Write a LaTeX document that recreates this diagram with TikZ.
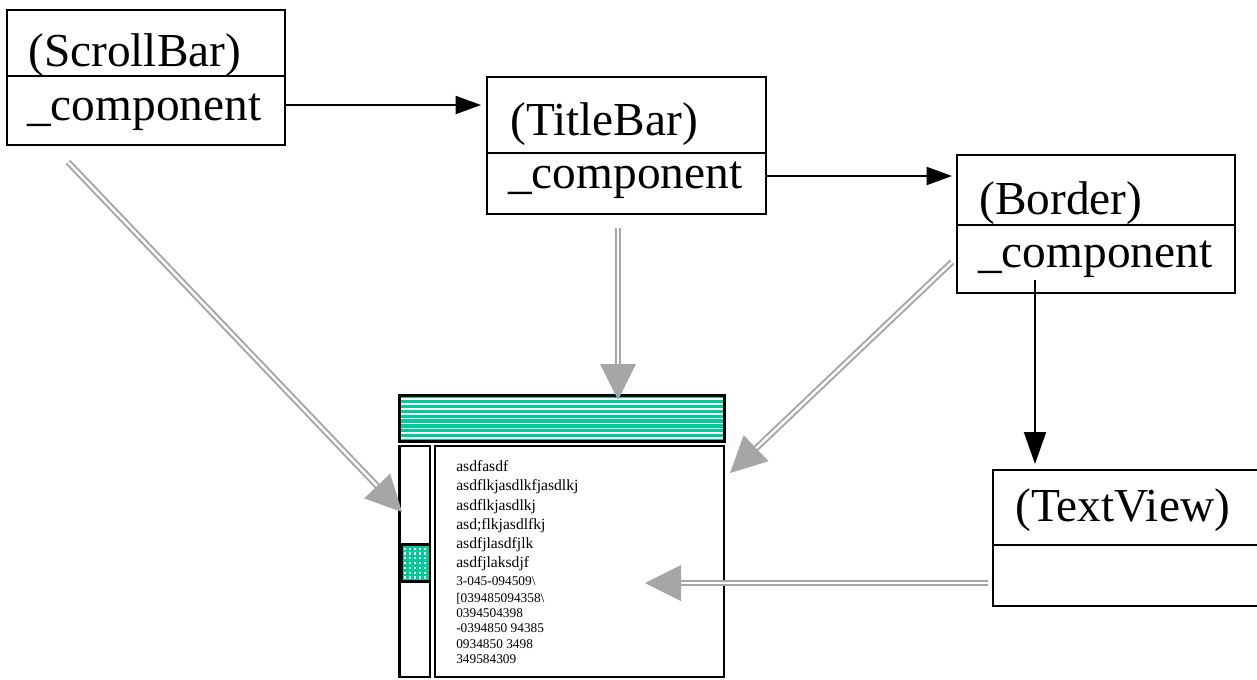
\documentclass[tikz,border=0pt]{standalone}
\usepackage{fontspec}
\setmainfont{Liberation Serif}
\usetikzlibrary{arrows.meta,calc,fit}
\definecolor{barteal}{RGB}{0,204,153}
\definecolor{linkgray}{RGB}{166,166,166}

% hollow (double) grey arrow with a solid triangular head: #1 start, #2 tip
\newcommand\inheritarrow[2]{%
  \coordinate (#2-base) at ($(#2)!27pt!(#1)$);
  \draw[draw=linkgray, double=white, line width=1.5pt, double distance=1.8pt]
    (#1) -- ($(#2)!21pt!(#1)$);
  \fill[linkgray] (#2) -- ($(#2-base)!13.5pt!90:(#2)$) -- ($(#2-base)!13.5pt!-90:(#2)$) -- cycle;
}

\begin{document}
\begin{tikzpicture}[x=0.75pt,y=-0.75pt,
  box/.style={draw=black, line width=1.5pt, inner sep=0pt},
  big/.style={font=\fontsize{35.5pt}{40pt}\selectfont, inner sep=0pt, anchor=base west},
  small/.style={font=\fontsize{11.7pt}{14pt}\selectfont, inner sep=0pt, anchor=base west},
  tiny/.style={font=\fontsize{10pt}{12pt}\selectfont, inner sep=0pt, anchor=base west},
  flow/.style={line width=1.5pt, -{Triangle[length=19pt,width=13.5pt]}},
  vflow/.style={line width=1.5pt, -{Triangle[length=24pt,width=16.5pt]}},
  win/.style={draw=black, line width=2.1pt, inner sep=0pt},
]
\useasboundingbox (0,0) rectangle (1257,679);

% ---- class boxes ----
\node[box, fit={(7,10) (285,76)}] (sbname) {};
\node[box, fit={(7,76) (285,145)}] (sbcomp) {};
\node[big] (sbnametext) at (28,66) {(ScrollBar)};
\node[big] (sbcomptext) at (27,120) {\_component};

\node[box, fit={(487,77) (766,153)}] (tbname) {};
\node[box, fit={(487,153) (766,214)}] (tbcomp) {};
\node[big] (tbnametext) at (510,135) {(TitleBar)};
\node[big] (tbcomptext) at (508,188) {\_component};

\node[box, fit={(957,155) (1235,225)}] (bdname) {};
\node[box, fit={(957,225) (1235,293)}] (bdcomp) {};
\node[big] (bdnametext) at (979,214) {(Border)};
\node[big] (bdcomptext) at (978,267) {\_component};

\node[box, fit={(993,470) (1265,545)}] (txname) {};
\node[box, fit={(993,545) (1265,606)}] (txcomp) {};
\node[big] (txnametext) at (1015,521) {(TextView)};

% ---- delegation arrows ----
\draw[flow, shorten >=3.75pt] (sbcomp.east |- 0,105) -- (tbname.west |- 0,105);
\draw[flow, shorten >=3pt] (tbcomp.east |- 0,176) -- (bdname.west |- 0,176);
\coordinate (bdstem) at (1035,280);
\draw[vflow, shorten >=3.75pt] (bdstem) -- (txname.north -| bdstem);

% ---- the window ----
\fill[barteal] (399.7,395.7) rectangle (724.7,441.3);
\foreach \k in {0,...,8}
  \draw[white, line width=1.3pt] (400.5,399+4.9*\k) -- (724,399+4.9*\k);
\node[win, fit={(399.7,395.7) (724.7,441.3)}] (wtitle) {};
\node[win, fit={(399.7,446) (430,677)}] (wscroll) {};
\node[win, fit={(435,446) (724,677)}] (wtext) {};

% scrollbar thumb
\fill[barteal] (401.3,544.7) rectangle (430,581.2);
\foreach \i in {0,...,4}
  \foreach \j in {0,...,6}
    \fill[white] (404+5*\i,547.5+4.8*\j) rectangle ++(2.2,2.2);
\node[win, fit={(401.3,544.7) (430,581.2)}] (wthumb) {};

% text contents
\node[small] (t1) at (456,471) {asdfasdf};
\node[small] (t2) at (456,490.5) {asdflkjasdlkfjasdlkj};
\node[small] (t3) at (456,510) {asdflkjasdlkj};
\node[small] (t4) at (456,529) {asd;flkjasdlfkj};
\node[small] (t5) at (456,548) {asdfjlasdfjlk};
\node[small] (t6) at (456,567) {asdfjlaksdjf};
\node[tiny] (t7) at (456,585) {3-045-094509\textbackslash};
\node[tiny] (t8) at (456,602) {[039485094358\textbackslash};
\node[tiny] (t9) at (456,617) {0394504398};
\node[tiny] (t10) at (456,632.5) {-0394850 94385};
\node[tiny] (t11) at (456,648) {0934850 3498};
\node[tiny] (t12) at (456,663) {349584309};

% ---- grey arrows from each object to what it draws ----
\coordinate (g1s) at (68,162);  \coordinate (g1t) at (402,512);
\coordinate (g2s) at (618,228); \coordinate (g2t) at (618,400);
\coordinate (g3s) at (952,262); \coordinate (g3t) at (730,473);
\coordinate (g4s) at (988,583); \coordinate (g4t) at (645,583);
\inheritarrow{g1s}{g1t}
\inheritarrow{g2s}{g2t}
\inheritarrow{g3s}{g3t}
\inheritarrow{g4s}{g4t}
\end{tikzpicture}
\end{document}
